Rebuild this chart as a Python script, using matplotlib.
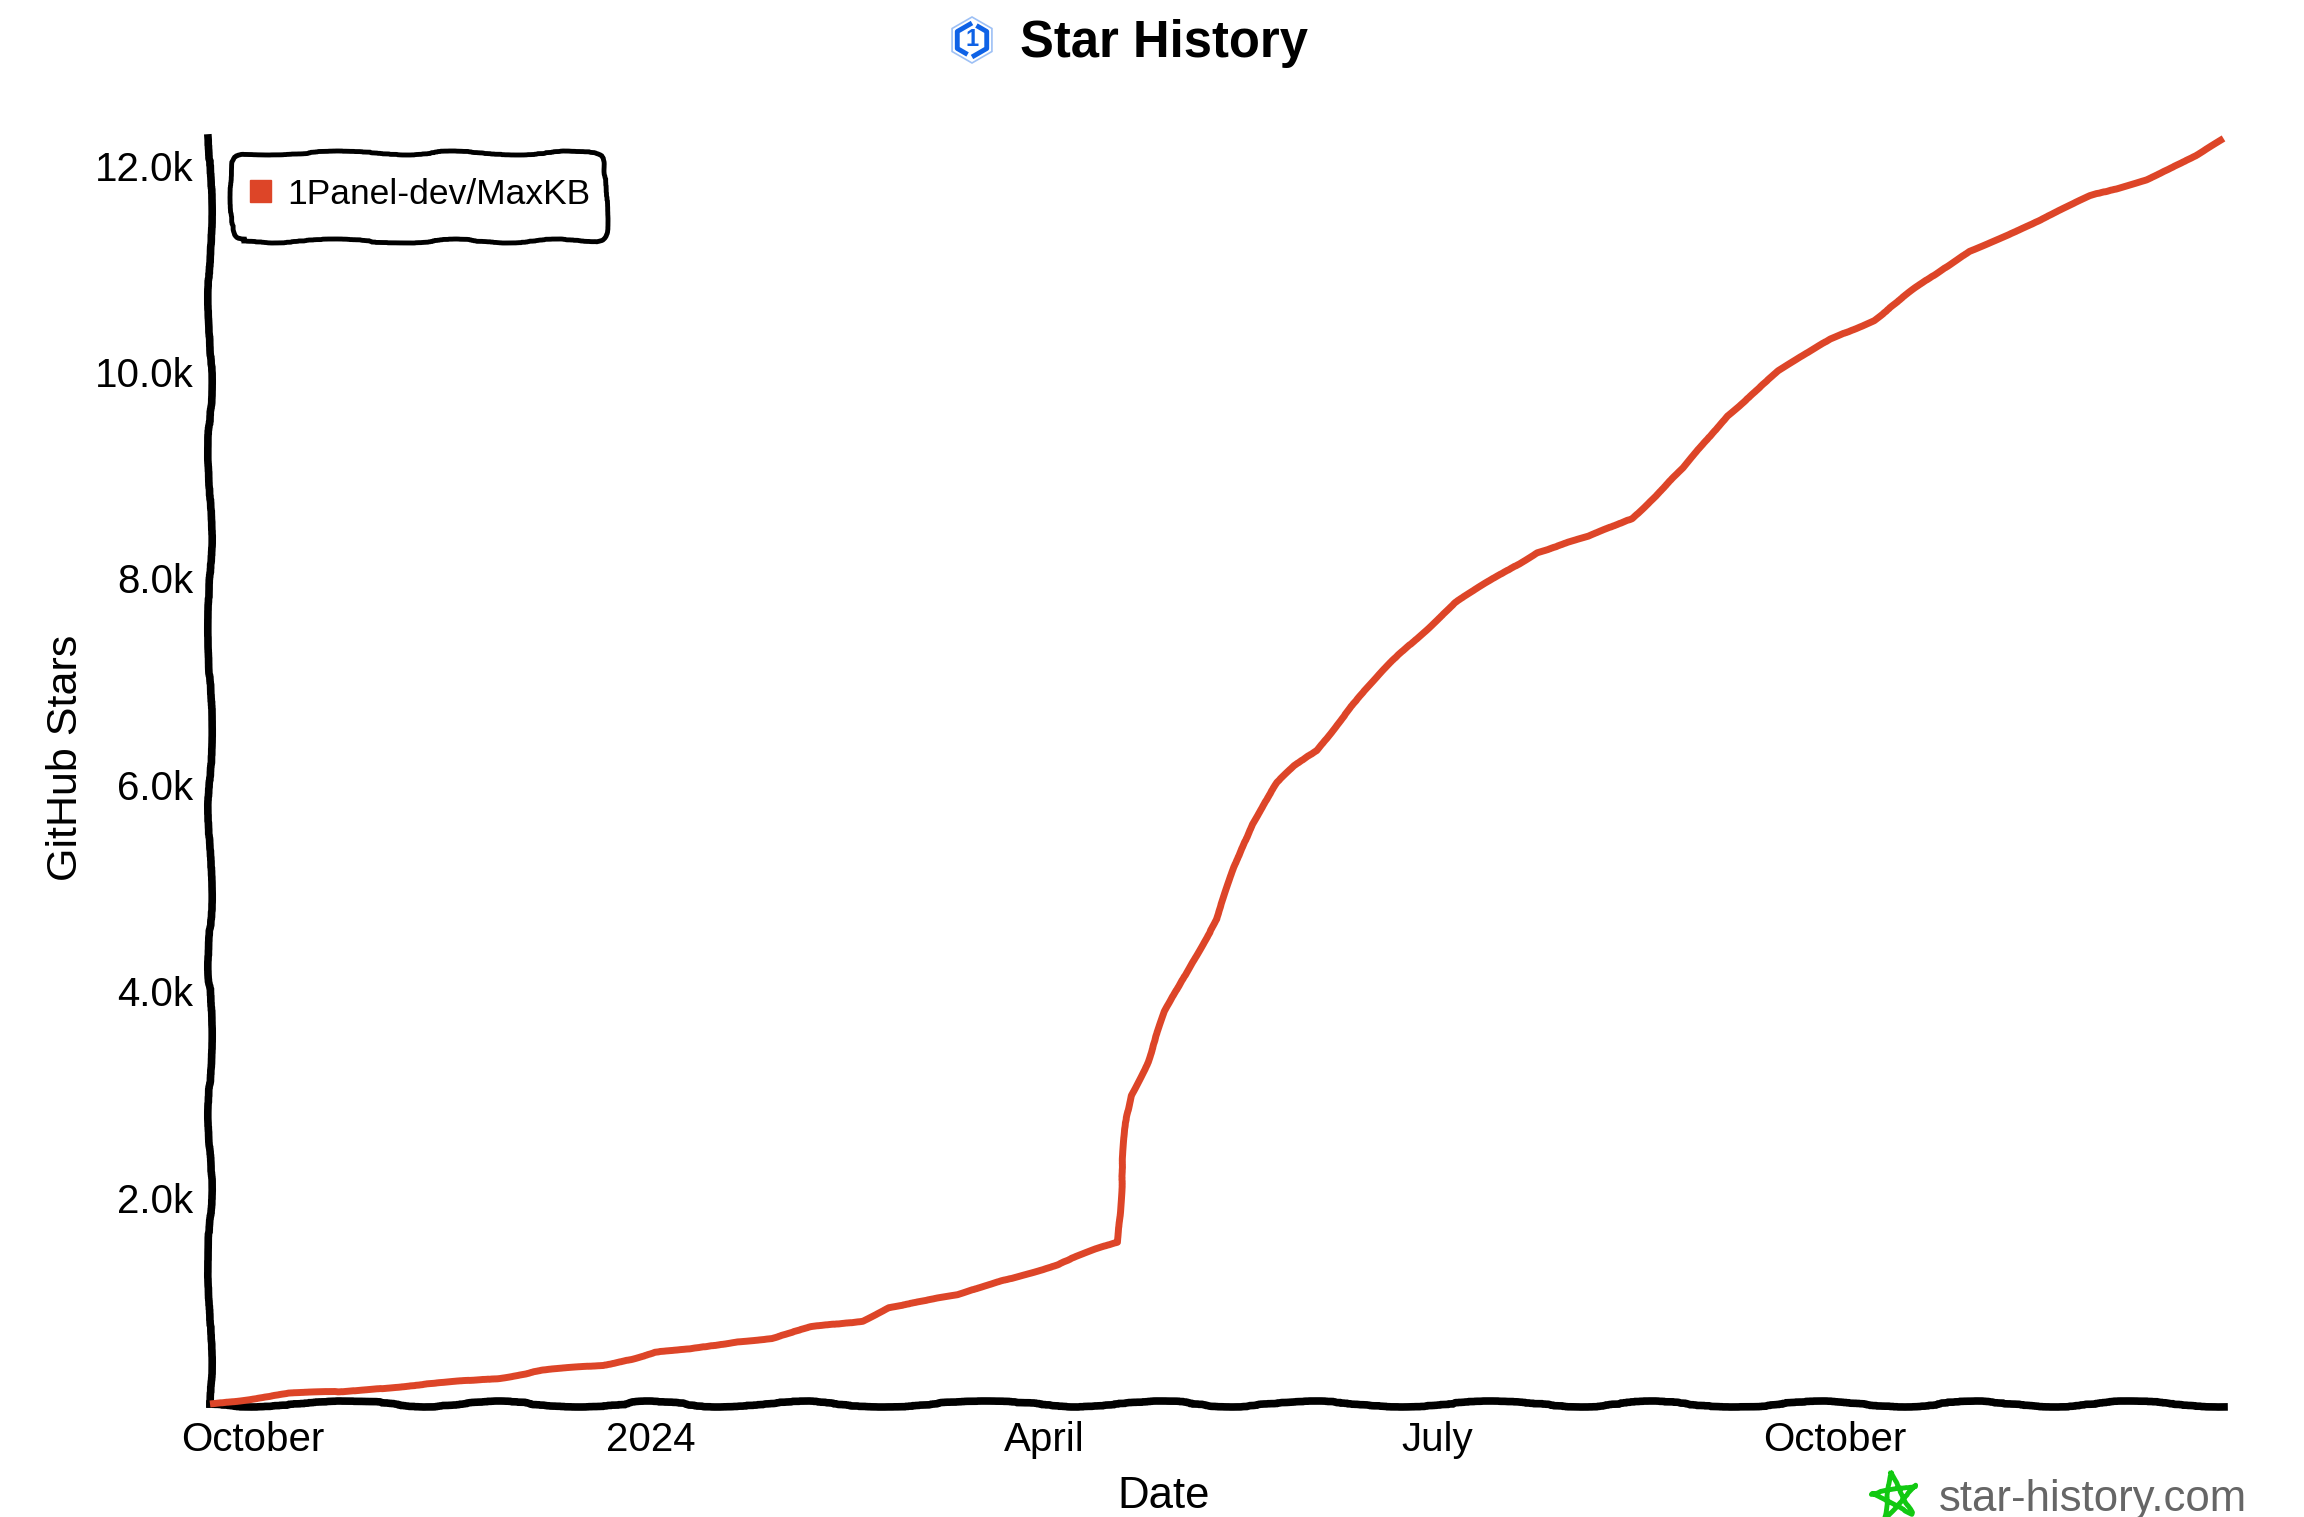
#!/usr/bin/python3

import matplotlib
matplotlib.use("Agg")
import matplotlib.pyplot as plt
import matplotlib.patches as mpatches
import matplotlib.lines as mlines
import matplotlib.transforms as mtransforms
import numpy as np
import pandas as pd

dates = [
    "2023-09-21", "2023-10-09", "2023-10-21", "2023-11-03", "2023-11-14",
    "2023-11-27", "2023-12-07", "2023-12-21", "2024-01-02", "2024-01-10",
    "2024-01-21", "2024-01-29", "2024-02-07", "2024-02-19", "2024-02-25",
    "2024-03-12", "2024-03-22", "2024-04-04", "2024-04-13", "2024-04-18",
    "2024-04-19", "2024-04-20", "2024-04-21", "2024-04-25", "2024-04-29",
    "2024-05-05", "2024-05-11", "2024-05-15", "2024-05-19", "2024-05-22",
    "2024-05-25", "2024-05-29", "2024-06-03", "2024-06-11", "2024-06-22",
    "2024-07-05", "2024-07-24", "2024-08-05", "2024-08-15", "2024-08-27",
    "2024-09-06", "2024-09-18", "2024-09-30", "2024-10-10", "2024-10-19",
    "2024-11-01", "2024-11-17", "2024-11-29", "2024-12-12", "2024-12-24",
    "2024-12-30",
]
stars = [
    0, 100, 115, 170, 200,
    255, 325, 370, 500, 525,
    610, 640, 740, 810, 940,
    1050, 1195, 1350, 1495, 1565,
    2205, 2775, 2990, 3315, 3800,
    4270, 4700, 5195, 5620, 5835,
    6020, 6180, 6335, 6760, 7260,
    7760, 8255, 8400, 8585, 9065,
    9580, 10005, 10320, 10505, 10790,
    11175, 11460, 11700, 11870, 12100,
    12255,
]

x_ticks = ["2023-10-01", "2024-01-01", "2024-04-01", "2024-07-01", "2024-10-01"]
x_tick_labels = ["October", "2024", "April", "July", "October"]
y_ticks = [2000, 4000, 6000, 8000, 10000, 12000]
y_tick_labels = ["2.0k", "4.0k", "6.0k", "8.0k", "10.0k", "12.0k"]
series_name = "1Panel-dev/MaxKB"

WIDTH = 2304
HEIGHT = 1517
RED = "#dd4528"
BLUE = "#0f62e6"
GREEN = "#12c912"
GRAY = "#666666"

plt.rcParams["font.family"] = ["Liberation Sans", "DejaVu Sans"]


def fig_text(fig, x, y, s, **kwargs):
    # x and y are pixels from the top left corner
    kwargs.setdefault("ha", "center")
    kwargs.setdefault("va", "center")
    return fig.text(x / WIDTH, 1 - y / HEIGHT, s, **kwargs)


def draw_logo(fig, pixels):
    cx, cy = 972, HEIGHT - 40
    outer = mpatches.RegularPolygon((cx, cy), 6, radius=23, fill=False,
                                    edgecolor="#9dc0f5", linewidth=1.2,
                                    transform=pixels)
    fig.add_artist(outer)
    # the inner hexagon is two strokes with a gap at the top and the bottom
    for start in [90, 270]:
        angles = np.deg2rad(start + 60 * np.arange(3))
        xs = cx + 17 * np.cos(angles)
        ys = cy + 17 * np.sin(angles)
        end = np.deg2rad(start + 180)
        next_end = np.deg2rad(start + 120)
        xs = np.append(xs, cx + 17 * (0.3 * np.cos(next_end) + 0.7 * np.cos(end)))
        ys = np.append(ys, cy + 17 * (0.3 * np.sin(next_end) + 0.7 * np.sin(end)))
        fig.add_artist(mlines.Line2D(xs, ys, color=BLUE, linewidth=3.5,
                                     transform=pixels, solid_capstyle="butt"))
    fig_text(fig, 972, 40, "1", color=BLUE, fontsize=17, fontweight="bold")


def draw_star(fig, pixels):
    cx, cy = 1895, HEIGHT - 1497
    angles = np.deg2rad(100 + 144 * np.arange(6))
    star = mlines.Line2D(cx + 24 * np.cos(angles), cy + 24 * np.sin(angles),
                         color=GREEN, linewidth=3.5, transform=pixels,
                         solid_joinstyle="round")
    star.set_sketch_params(scale=0.8, length=150, randomness=16)
    fig.add_artist(star)


def main():
    x_values = pd.to_datetime(dates)

    fig = plt.figure(figsize=(WIDTH / 100, HEIGHT / 100), dpi=100)
    ax = fig.add_axes([210 / WIDTH, 1 - 1404 / HEIGHT, 2014 / WIDTH, 1266 / HEIGHT])
    pixels = mtransforms.IdentityTransform()

    line, = ax.plot(x_values, stars, color=RED, linewidth=5, clip_on=False,
                    solid_capstyle="butt", solid_joinstyle="round", zorder=5,
                    label=series_name)
    line.set_sketch_params(scale=1.0, length=400, randomness=16)

    ax.set_xlim(pd.Timestamp("2023-09-21"), pd.Timestamp("2024-12-30"))
    ax.set_ylim(0, 12267)

    ax.set_xticks(pd.to_datetime(x_ticks))
    ax.set_xticklabels(x_tick_labels, fontsize=29)
    ax.set_yticks(y_ticks)
    ax.set_yticklabels(y_tick_labels, fontsize=29)
    ax.tick_params(axis="both", length=0)
    ax.tick_params(axis="x", pad=12)
    ax.tick_params(axis="y", pad=12)

    ax.spines["top"].set_visible(False)
    ax.spines["right"].set_visible(False)
    ax.spines["left"].set_linewidth(5.5)
    ax.spines["left"].set_sketch_params(scale=2.2, length=500, randomness=16)
    ax.spines["bottom"].set_linewidth(5.5)
    ax.spines["bottom"].set_sketch_params(scale=3, length=500, randomness=16)

    # box drawn apart from the legend so its size can be set on its own
    box = mpatches.FancyBboxPatch(
        (240, HEIGHT - 233), 358, 72,
        boxstyle="round,pad=8,rounding_size=12",
        facecolor="white", edgecolor="black", linewidth=3.5,
        transform=pixels, clip_on=False, zorder=4,
    )
    box.set_sketch_params(scale=2, length=350, randomness=16)
    ax.add_patch(box)

    legend = ax.legend(
        handles=[mpatches.Patch(color=RED, label=series_name, joinstyle="round")],
        loc="center left",
        bbox_to_anchor=(250, HEIGHT - 194),
        bbox_transform=pixels,
        borderaxespad=0,
        borderpad=0,
        fontsize=25.5,
        frameon=False,
        handlelength=0.6,
        handleheight=0.6,
        handletextpad=0.45,
    )
    legend.set_zorder(6)

    fig_text(fig, 1164, 44, "Star History", fontsize=36.5, fontweight="bold")
    fig_text(fig, 1164, 1497, "Date", fontsize=31.5)
    fig_text(fig, 66, 758, "GitHub Stars", fontsize=31, rotation=90)
    fig_text(fig, 2247, 1499, "star-history.com", fontsize=31.5, color=GRAY, ha="right")

    draw_logo(fig, pixels)
    draw_star(fig, pixels)

    fig.savefig("out.png", dpi=100, facecolor="white")


if __name__ == "__main__":
    main()
